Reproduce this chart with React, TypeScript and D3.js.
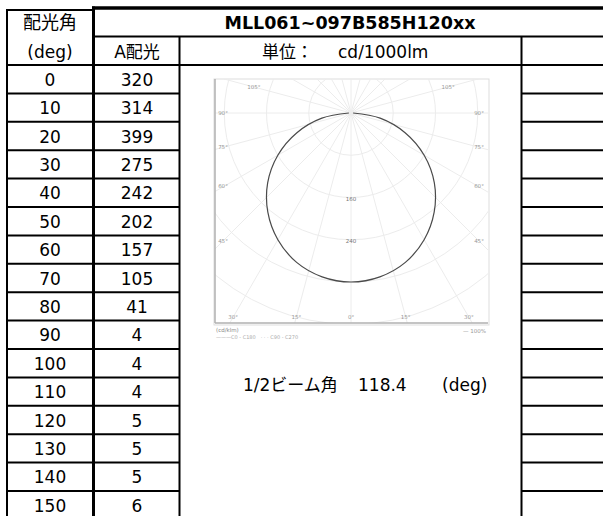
import React from "react";
import * as d3 from "d3";

// ---- data ----
const angleDeg = [0, 10, 20, 30, 40, 50, 60, 70, 80, 90, 100, 110, 120, 130, 140, 150];
const intensityA = [320, 314, 399, 275, 242, 202, 157, 105, 41, 4, 4, 4, 5, 5, 5, 6];
// values (cd/1000lm), 0°..90°
const curveDeg = [0, 10, 20, 30, 40, 50, 60, 70, 80, 90];
const curveCd = [320, 315, 301, 277, 245, 206, 160, 109, 56, 4];
const gridCd = [80, 160, 240, 320, 400, 480];
const gridLabelCd = [160, 240];
const spokeDeg = d3.range(-165, 181, 15);
const angleLabelDeg = [-105, -90, -75, -60, -45, -30, -15, 0, 15, 30, 45, 60, 75, 90, 105];
const title = "MLL061~097B585H120xx";
const headAngle1 = "配光角";
const headAngle2 = "(deg)";
const headSeries = "A配光";
const unitLabel = "単位：";
const unitValue = "cd/1000lm";
const beamLabel = "1/2ビーム角";
const beamValue = "118.4";
const beamUnit = "(deg)";

const FONT = "'DejaVu Sans', 'Noto Sans CJK JP', sans-serif";

export default function App() {
  const W = 603, H = 516;
  // table geometry
  const xL = 7, xC1 = 93.5, xC2 = 179.5, xC3 = 521.5;
  const rowTop = 65, rowH = 28.4;
  const rowY = (i: number) => rowTop + rowH * i;

  // polar chart geometry
  const fx0 = 215, fx1 = 488, fy0 = 79, fy1 = 323;
  const O = { x: 351, y: 113 };
  const r = d3.scaleLinear().domain([0, 320]).range([0, 169]);
  const pt = (deg: number, rad: number) => {
    const a = (deg * Math.PI) / 180;
    return [O.x + rad * Math.sin(a), O.y + rad * Math.cos(a)] as [number, number];
  };

  // curve points (mirror for both sides)
  const pts: [number, number][] = [];
  for (let i = curveDeg.length - 1; i >= 1; i--) pts.push(pt(-curveDeg[i], r(curveCd[i])));
  for (let i = 0; i < curveDeg.length; i++) pts.push(pt(curveDeg[i], r(curveCd[i])));
  const curvePath = d3.line().curve(d3.curveCatmullRom)(pts) || "";

  // angle label positions: where ray meets an inset frame
  const ix0 = fx0 + 8, ix1 = fx1 - 9, iy0 = fy0 + 8, iy1 = fy1 - 6;
  const labelPos = (deg: number) => {
    const a = (deg * Math.PI) / 180;
    const dx = Math.sin(a), dy = Math.cos(a);
    const ts: number[] = [];
    if (dx < -1e-6) ts.push((ix0 - O.x) / dx);
    if (dx > 1e-6) ts.push((ix1 - O.x) / dx);
    if (dy < -1e-6) ts.push((iy0 - O.y) / dy);
    if (dy > 1e-6) ts.push((iy1 - O.y) / dy);
    const t = Math.min(...ts);
    return [O.x + dx * t, O.y + dy * t];
  };

  const hLines: { x1: number; x2: number; y: number; w: number }[] = [];
  hLines.push({ x1: 6, x2: 94, y: 10, w: 2 });
  hLines.push({ x1: 92, x2: 603, y: 8, w: 3.5 });
  hLines.push({ x1: 93, x2: 603, y: 36.5, w: 2 });
  hLines.push({ x1: 6, x2: 603, y: rowY(0), w: 2 });
  for (let i = 1; i <= angleDeg.length; i++) {
    hLines.push({ x1: 6, x2: 180, y: rowY(i), w: 2 });
    hLines.push({ x1: 521, x2: 603, y: rowY(i), w: 2 });
  }

  return (
    <svg
      width={W}
      height={H}
      style={{ position: "absolute", left: 0, top: 0, background: "#fff" }}
      fontFamily={FONT}
    >
      <defs>
        <clipPath id="frameClip">
          <rect x={fx0} y={fy0} width={fx1 - fx0} height={fy1 - fy0} />
        </clipPath>
      </defs>
      <rect width={W} height={H} fill="#fff" />

      {/* polar chart */}
      <g>
        <rect x={fx0 - 1} y={fy0} width={fx1 - fx0 + 2} height={fy1 - fy0 + 2} fill="#fff" stroke="#ddd" strokeWidth={1} />
        <g clipPath="url(#frameClip)" stroke="#ececec" fill="none" strokeWidth={1}>
          {gridCd.map((c) => (
            <circle key={c} cx={O.x} cy={O.y} r={r(c)} />
          ))}
          {spokeDeg.map((d) => {
            const [x2, y2] = pt(d, 400);
            return <line key={d} x1={O.x} y1={O.y} x2={x2} y2={y2} />;
          })}
        </g>
        <line x1={fx0} x2={fx0} y1={fy0} y2={fy1} stroke="#b0b0b0" strokeWidth={1.5} />
        <line x1={fx0} x2={fx1} y1={fy1} y2={fy1} stroke="#b0b0b0" strokeWidth={1.5} />
        {gridLabelCd.map((c) => (
          <text key={c} x={O.x} y={O.y + r(c) + 2} fontSize={5.5} fill="#777" textAnchor="middle" dominantBaseline="middle">
            {c}
          </text>
        ))}
        {angleLabelDeg.map((d) => {
          const [x, y] = labelPos(d);
          return (
            <text key={d} x={x} y={y} fontSize={5.5} fill="#999" textAnchor="middle" dominantBaseline="middle">
              {Math.abs(d)}°
            </text>
          );
        })}
        <path d={curvePath} fill="none" stroke="#4a4a4a" strokeWidth={1.2} clipPath="url(#frameClip)" />
        <text x={216} y={332} fontSize={5.5} fill="#888">(cd/klm)</text>
        <text x={216} y={339} fontSize={5} fill="#aaa">———C0 - C180　· · · C90 - C270</text>
        <text x={486} y={333} fontSize={5.5} fill="#999" textAnchor="end">— 100%</text>
      </g>

      {/* table lines */}
      <g stroke="#000">
        {hLines.map((l, i) => (
          <line key={i} x1={l.x1} x2={l.x2} y1={l.y} y2={l.y} strokeWidth={l.w} />
        ))}
        <line x1={xL} x2={xL} y1={9} y2={H} strokeWidth={2} />
        <line x1={xC1} x2={xC1} y1={6.5} y2={H} strokeWidth={3} />
        <line x1={xC2} x2={xC2} y1={36} y2={H} strokeWidth={2} />
        <line x1={xC3} x2={xC3} y1={36} y2={H} strokeWidth={2} />
      </g>

      {/* header text */}
      <g fill="#000" fontSize={17}>
        <text x={50} y={29} textAnchor="middle" fontSize={18}>{headAngle1}</text>
        <text x={50} y={57.5} textAnchor="middle">{headAngle2}</text>
        <text x={137} y={57.5} textAnchor="middle">{headSeries}</text>
        <text x={350} y={28.5} textAnchor="middle" fontWeight="bold" fontSize={17.5}>{title}</text>
        <text x={262} y={57.5}>{unitLabel}</text>
        <text x={338} y={57.5}>{unitValue}</text>
      </g>

      {/* data rows */}
      <g fill="#000" fontSize={17} textAnchor="middle">
        {angleDeg.map((a, i) => (
          <g key={a}>
            <text x={50} y={rowY(i) + rowH / 2 + 6.5}>{a}</text>
            <text x={137} y={rowY(i) + rowH / 2 + 6.5}>{intensityA[i]}</text>
          </g>
        ))}
      </g>

      {/* beam angle */}
      <g fill="#000" fontSize={17}>
        <text x={243} y={391}>{beamLabel}</text>
        <text x={358} y={391}>{beamValue}</text>
        <text x={442} y={391}>{beamUnit}</text>
      </g>
    </svg>
  );
}
